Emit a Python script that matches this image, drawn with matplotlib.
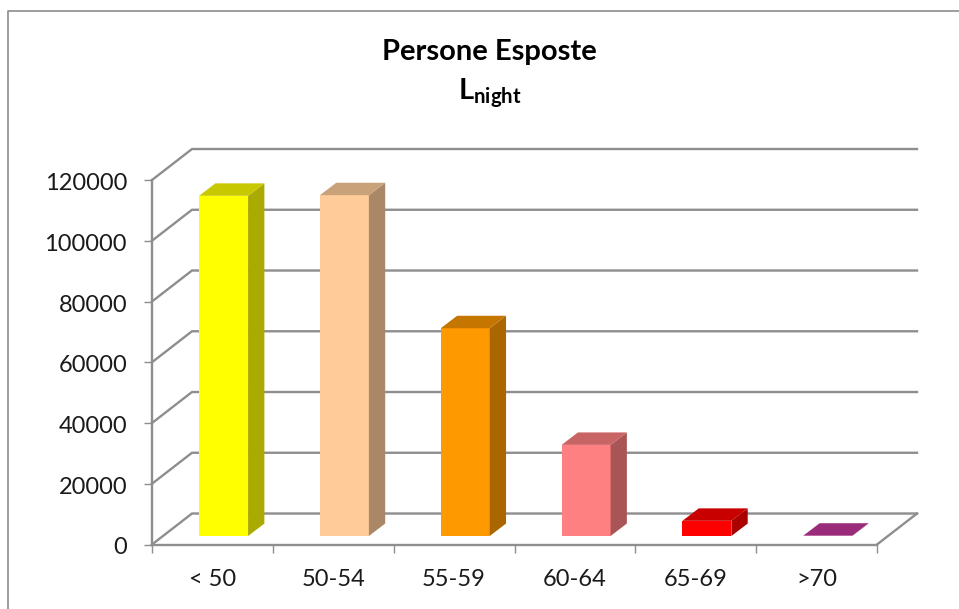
import matplotlib
matplotlib.use("Agg")
import matplotlib.pyplot as plt
from matplotlib.lines import Line2D
from matplotlib.patches import Polygon
from matplotlib.transforms import ScaledTranslation

plt.rcParams["font.family"] = ["Lato", "DejaVu Sans"]
plt.rcParams["mathtext.fontset"] = "custom"
plt.rcParams["mathtext.bf"] = "Lato:bold"
plt.rcParams["mathtext.rm"] = "Lato"

categories = ["< 50", "50-54", "55-59", "60-64", "65-69", ">70"]
values = [112000, 112200, 68400, 30000, 5000, 100]
front_colors = ["#FFFF00", "#FFCC99", "#FF9900", "#FF8080", "#FF0000", "#C03598"]
side_colors = ["#AAAA00", "#AA8766", "#AA6600", "#AA5555", "#AA0000", "#802366"]
top_colors = ["#C8C800", "#C9A27A", "#C47600", "#C96464", "#C80000", "#9A2A7A"]
y_ticks = [0, 20000, 40000, 60000, 80000, 100000, 120000]

W, H = 959, 609
GRID = "#8E8E8E"
TEXT = "#1A1A1A"

# depth of the fake 3d box, in data units
WALL_DX, WALL_DY = 0.331, 10200
BAR_DX, BAR_DY = 0.135, 4100
BAR_WIDTH = 0.405
BAR_LIFT = 2800

fig = plt.figure(figsize=(W / 100, H / 100), dpi=100)
ax = fig.add_axes([152 / W, (H - 544.5) / H, 725 / W, 364.5 / H])
ax.set_xlim(0, len(categories))
ax.set_ylim(0, 120000)
ax.patch.set_visible(False)

# back wall + left wall + floor
n = len(categories)
for v in y_ticks:
    ax.plot([0, WALL_DX, n + WALL_DX], [v, v + WALL_DY, v + WALL_DY],
            color=GRID, lw=1.7, clip_on=False, zorder=1, solid_joinstyle="miter")
ax.plot([n, n + WALL_DX], [0, WALL_DY], color=GRID, lw=1.7, clip_on=False, zorder=1)

# bars
for i, v in enumerate(values):
    x0 = i + 0.39
    x1 = x0 + BAR_WIDTH
    y0 = BAR_LIFT
    y1 = BAR_LIFT + v
    ax.bar(x0, v, BAR_WIDTH, bottom=y0, align="edge", color=front_colors[i], zorder=3)
    side = [(x1, y0), (x1 + BAR_DX, y0 + BAR_DY), (x1 + BAR_DX, y1 + BAR_DY), (x1, y1)]
    top = [(x0, y1), (x1, y1), (x1 + BAR_DX, y1 + BAR_DY), (x0 + BAR_DX, y1 + BAR_DY)]
    ax.add_patch(Polygon(side, closed=True, fc=side_colors[i], ec="none", zorder=3, clip_on=False))
    ax.add_patch(Polygon(top, closed=True, fc=top_colors[i], ec="none", zorder=3, clip_on=False))

# axes
for s in ["top", "right"]:
    ax.spines[s].set_visible(False)
for s in ["left", "bottom"]:
    ax.spines[s].set_color(GRID)
    ax.spines[s].set_linewidth(1.7)
ax.set_yticks(y_ticks)
ax.set_yticklabels([str(v) for v in y_ticks])
ax.set_xticks(range(n + 1))
ax.set_xticklabels([])
ax.set_xticks([i + 0.5 for i in range(n)], minor=True)
ax.set_xticklabels(categories, minor=True)
ax.tick_params(axis="x", which="major", length=6, width=1, color=GRID)
ax.tick_params(axis="x", which="minor", length=0, pad=18, labelsize=17, labelcolor=TEXT)
ax.tick_params(axis="y", length=6, width=1, color=GRID, pad=12, labelsize=17, labelcolor=TEXT)

# labels sit a little below the tick in the original
nudge = ScaledTranslation(0, -1.5 / 100, fig.dpi_scale_trans)
for label in ax.get_yticklabels():
    label.set_transform(label.get_transform() + nudge)

# title
fig.text(489.5 / W, 1 - 52 / H, "Persone Esposte", ha="center", va="center",
         fontsize=21, fontweight="bold", color="black")
fig.text(490 / W, 1 - 93 / H, r"$\mathbf{L_{night}}$", ha="center", va="center",
         fontsize=21, color="black")

# chart frame (only left and top are inside the crop)
fig.add_artist(Line2D([7.5 / W, 7.5 / W, 1], [0, 1 - 11 / H, 1 - 11 / H],
                      transform=fig.transFigure, color="#8C8C8C", lw=1.2))

fig.savefig("out.png", dpi=100)
